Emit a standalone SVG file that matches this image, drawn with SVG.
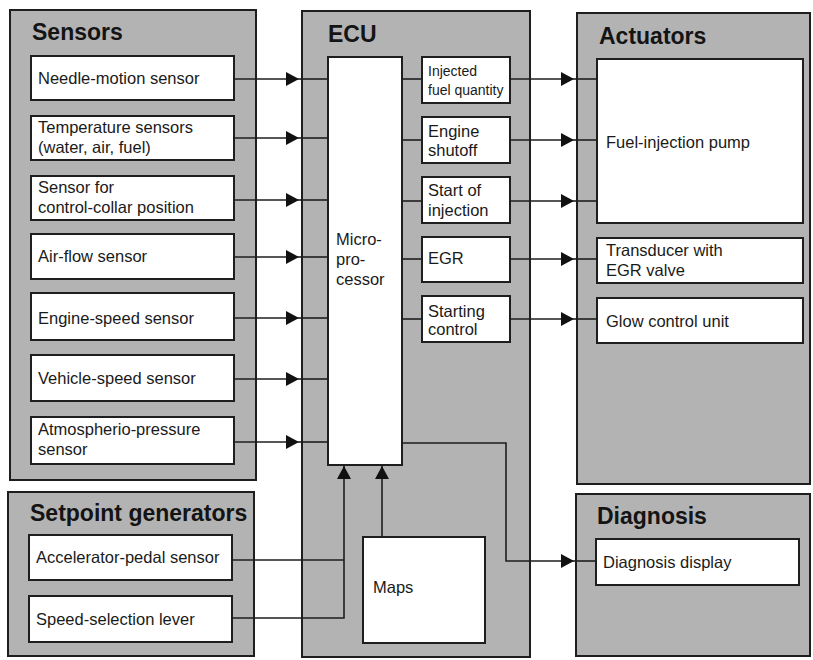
<svg xmlns="http://www.w3.org/2000/svg" width="813" height="660" viewBox="0 0 813 660">
<style>
.panel{fill:#b3b3b3;stroke:#1e1e1e;stroke-width:2}
.box{fill:#ffffff;stroke:#1e1e1e;stroke-width:2}
.title{font-family:"Liberation Sans",Arial,sans-serif;font-weight:bold;font-size:23px;fill:#141414}
.t{font-family:"Liberation Sans",Arial,sans-serif;font-size:16.5px;fill:#1a1a1a}
.ts{font-family:"Liberation Sans",Arial,sans-serif;font-size:14px;fill:#1a1a1a}
.c{fill:none;stroke:#1e1e1e;stroke-width:1.6}
</style>
<defs>
<marker id="arr" markerUnits="userSpaceOnUse" markerWidth="14" markerHeight="16" viewBox="0 0 14 16" refX="13" refY="8" orient="auto">
<path d="M0,1 L13,8 L0,15 Z" fill="#111"/>
</marker>
</defs>
<rect width="813" height="660" fill="#ffffff"/>

<g id="sensors">
<rect class="panel" x="10" y="10" width="246" height="470"/>
<text class="title" x="32" y="40">Sensors</text>
</g>
<g id="needle-motion-sensor"><rect class="box" x="31" y="56" width="203" height="44"/><text class="t" x="38" y="84">Needle-motion sensor</text></g>
<g id="temperature-sensors"><rect class="box" x="31" y="116" width="203" height="44"/><text class="t" x="38" y="133">Temperature sensors</text><text class="t" x="38" y="153">(water, air, fuel)</text></g>
<g id="control-collar-sensor"><rect class="box" x="31" y="176" width="203" height="44"/><text class="t" x="38" y="193">Sensor for</text><text class="t" x="38" y="213">control-collar position</text></g>
<g id="air-flow-sensor"><rect class="box" x="31" y="234" width="203" height="45"/><text class="t" x="38" y="262">Air-flow sensor</text></g>
<g id="engine-speed-sensor"><rect class="box" x="31" y="293" width="203" height="47"/><text class="t" x="38" y="324">Engine-speed sensor</text></g>
<g id="vehicle-speed-sensor"><rect class="box" x="31" y="355" width="203" height="46"/><text class="t" x="38" y="384">Vehicle-speed sensor</text></g>
<g id="atmospheric-pressure-sensor"><rect class="box" x="31" y="417" width="203" height="47"/><text class="t" x="38" y="435">Atmospherio-pressure</text><text class="t" x="38" y="455">sensor</text></g>

<g id="setpoint-generators">
<rect class="panel" x="8" y="492" width="246" height="164"/>
<text class="title" x="30" y="521">Setpoint generators</text>
</g>
<g id="accelerator-pedal-sensor"><rect class="box" x="29" y="535" width="203" height="45"/><text class="t" x="36" y="563">Accelerator-pedal sensor</text></g>
<g id="speed-selection-lever"><rect class="box" x="29" y="596" width="203" height="46"/><text class="t" x="36" y="625">Speed-selection lever</text></g>

<g id="ecu">
<rect class="panel" x="302" y="11" width="228" height="646"/>
<text class="title" x="328" y="42">ECU</text>
</g>
<g id="microprocessor"><rect class="box" x="328" y="57" width="74" height="408"/><text class="t" x="336" y="245">Micro-</text><text class="t" x="336" y="265">pro-</text><text class="t" x="336" y="285">cessor</text></g>
<g id="maps"><rect class="box" x="363" y="537" width="122" height="106"/><text class="t" x="373" y="593">Maps</text></g>
<g id="injected-fuel-quantity"><rect class="box" x="422" y="57" width="88" height="46"/><text class="ts" x="428" y="76">Injected</text><text class="ts" x="428" y="95">fuel quantity</text></g>
<g id="engine-shutoff"><rect class="box" x="422" y="117" width="88" height="46"/><text class="t" x="428" y="137">Engine</text><text class="t" x="428" y="156">shutoff</text></g>
<g id="start-of-injection"><rect class="box" x="422" y="177" width="88" height="46"/><text class="t" x="428" y="196">Start of</text><text class="t" x="428" y="216">injection</text></g>
<g id="egr"><rect class="box" x="422" y="237" width="88" height="45"/><text class="t" x="428" y="264">EGR</text></g>
<g id="starting-control"><rect class="box" x="422" y="296" width="88" height="46"/><text class="t" x="428" y="317">Starting</text><text class="t" x="428" y="335">control</text></g>

<g id="actuators">
<rect class="panel" x="577" y="13" width="233" height="471"/>
<text class="title" x="599" y="44">Actuators</text>
</g>
<g id="fuel-injection-pump"><rect class="box" x="597" y="59" width="206" height="164"/><text class="t" x="606" y="148">Fuel-injection pump</text></g>
<g id="transducer-egr-valve"><rect class="box" x="597" y="238" width="206" height="45"/><text class="t" x="606" y="256">Transducer with</text><text class="t" x="606" y="276">EGR valve</text></g>
<g id="glow-control-unit"><rect class="box" x="597" y="298" width="206" height="45"/><text class="t" x="606" y="327">Glow control unit</text></g>

<g id="diagnosis">
<rect class="panel" x="576" y="494" width="234" height="162"/>
<text class="title" x="597" y="524">Diagnosis</text>
</g>
<g id="diagnosis-display"><rect class="box" x="596" y="539" width="203" height="46"/><text class="t" x="603" y="568">Diagnosis display</text></g>

<g id="connectors">
<path class="c" d="M234,79 H299" marker-end="url(#arr)"/><path class="c" d="M299,79 H328"/>
<path class="c" d="M234,138 H299" marker-end="url(#arr)"/><path class="c" d="M299,138 H328"/>
<path class="c" d="M234,200 H299" marker-end="url(#arr)"/><path class="c" d="M299,200 H328"/>
<path class="c" d="M234,257 H299" marker-end="url(#arr)"/><path class="c" d="M299,257 H328"/>
<path class="c" d="M234,318 H299" marker-end="url(#arr)"/><path class="c" d="M299,318 H328"/>
<path class="c" d="M234,379 H299" marker-end="url(#arr)"/><path class="c" d="M299,379 H328"/>
<path class="c" d="M234,442 H299" marker-end="url(#arr)"/><path class="c" d="M299,442 H328"/>

<path class="c" d="M402,79 H422"/>
<path class="c" d="M402,140 H422"/>
<path class="c" d="M402,201 H422"/>
<path class="c" d="M402,259 H422"/>
<path class="c" d="M402,319 H422"/>

<path class="c" d="M510,79 H574" marker-end="url(#arr)"/><path class="c" d="M574,79 H597"/>
<path class="c" d="M510,140 H574" marker-end="url(#arr)"/><path class="c" d="M574,140 H597"/>
<path class="c" d="M510,201 H574" marker-end="url(#arr)"/><path class="c" d="M574,201 H597"/>
<path class="c" d="M510,259 H574" marker-end="url(#arr)"/><path class="c" d="M574,259 H597"/>
<path class="c" d="M510,319 H574" marker-end="url(#arr)"/><path class="c" d="M574,319 H597"/>

<path class="c" d="M402,443 H506 V561 H574" marker-end="url(#arr)"/><path class="c" d="M574,561 H596"/>

<path class="c" d="M232,560 H344"/>
<path class="c" d="M232,618 H344 V466" marker-end="url(#arr)"/>
<path class="c" d="M382,537 V466" marker-end="url(#arr)"/>
</g>
</svg>
